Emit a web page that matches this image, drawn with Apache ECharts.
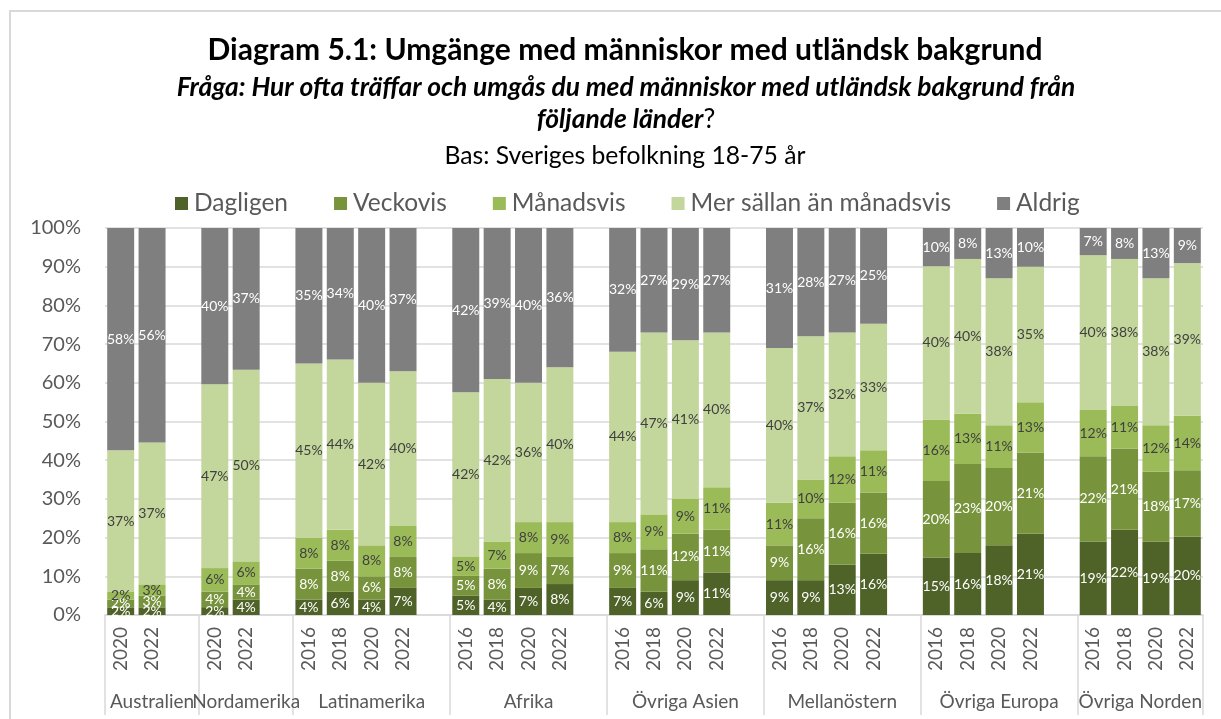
<!DOCTYPE html>
<html>
<head>
<meta charset="utf-8">
<script src="https://cdn.jsdelivr.net/npm/echarts@6/dist/echarts.min.js"></script>
<style>
html, body { margin:0; padding:0; background:#fff; width:1221px; height:719px; overflow:hidden; }
#frame { position:absolute; left:9px; top:10px; width:1300px; height:800px; border:2px solid #D9D9D9; box-sizing:border-box; }
#chart { position:absolute; left:0; top:0; width:1221px; height:719px; }
</style>
</head>
<body>
<div id="frame"></div>
<div id="chart"></div>
<script>
// ---- data ----
const groupNames = ['Australien','Nordamerika','Latinamerika','Afrika','Övriga Asien','Mellanöstern','Övriga Europa','Övriga Norden'];
const groupYears = [
  ['2020','2022'],
  ['2020','2022'],
  ['2016','2018','2020','2022'],
  ['2016','2018','2020','2022'],
  ['2016','2018','2020','2022'],
  ['2016','2018','2020','2022'],
  ['2016','2018','2020','2022'],
  ['2016','2018','2020','2022']
];
const seriesNames = ['Dagligen','Veckovis','Månadsvis','Mer sällan än månadsvis','Aldrig'];
const dagligen  = [2,2,  2,4,  4,6,4,7,   5,4,7,8,   7,6,9,11,   9,9,13,16,   15,16,18,21, 19,22,19,20];
const veckovis  = [2,3,  4,4,  8,8,6,8,   5,8,9,7,   9,11,12,11, 9,16,16,16,  20,23,20,21, 22,21,18,17];
const manadsvis = [2,3,  6,6,  8,8,8,8,   5,7,8,9,   8,9,9,11,   11,10,12,11, 16,13,11,13, 12,11,12,14];
const merSallan = [37,37, 47,50, 45,44,42,40, 42,42,36,40, 44,47,41,40, 40,37,32,33, 40,40,38,35, 40,38,38,39];
const aldrig    = [58,56, 40,37, 35,34,40,37, 42,39,40,36, 32,27,29,27, 31,28,27,25, 10,8,13,10, 7,8,13,9];
const yTicks = [0,10,20,30,40,50,60,70,80,90,100];

// ---- build ----
const colors = ['#4F6228','#77933C','#9BBB59','#C3D69B','#7F7F7F'];
const labelColors = ['#FFFFFF','#FFFFFF','#404040','#404040','#FFFFFF'];
const raw = [dagligen, veckovis, manadsvis, merSallan, aldrig];

const categories = [];
const dataIdx = []; // index into raw arrays, or -1 for blank
let k = 0;
groupYears.forEach((yrs, gi) => {
  yrs.forEach(y => { categories.push(y); dataIdx.push(k++); });
  if (gi < groupYears.length - 1) { categories.push(''); dataIdx.push(-1); }
});
const nCat = categories.length;

// group boundaries and centers (in category units)
const bounds = [0];
groupYears.forEach((yrs, gi) => {
  const size = yrs.length + (gi < groupYears.length - 1 ? 1 : 0);
  bounds.push(bounds[bounds.length - 1] + size);
});
const centers = groupNames.map((_, i) => (bounds[i] + bounds[i + 1]) / 2);
const centersEven = centers.filter((_, i) => i % 2 === 0);
const centersOdd = centers.filter((_, i) => i % 2 === 1);
const groupLabel = v => {
  const i = centers.findIndex(c => Math.abs(c - v) < 1e-6);
  return i >= 0 ? groupNames[i] : '';
};

const series = raw.map((arr, si) => ({
  name: seriesNames[si],
  type: 'bar',
  stack: 'total',
  xAxisIndex: 0,
  barCategoryGap: '14%',
  itemStyle: { color: colors[si] },
  label: {
    show: true,
    position: 'inside',
    color: labelColors[si],
    fontFamily: 'Lato',
    fontSize: 14,
    formatter: p => (p.data && p.data.raw != null) ? p.data.raw + '%' : ''
  },
  data: dataIdx.map(ix => {
    if (ix < 0) return null;
    const sum = raw.reduce((s, a) => s + a[ix], 0);
    return { value: arr[ix] * 100 / sum, raw: arr[ix] };
  })
}));

const groupAxis = (vals, withTicks) => ({
  type: 'value',
  min: 0,
  max: nCat,
  position: 'bottom',
  axisLine: { show: false },
  splitLine: { show: false },
  axisTick: withTicks
    ? { show: true, length: 100, customValues: bounds, lineStyle: { color: '#D9D9D9', width: 1.5 } }
    : { show: false },
  axisLabel: {
    show: true,
    customValues: vals,
    showMinLabel: true,
    showMaxLabel: true,
    margin: 77,
    fontFamily: 'Lato', fontSize: 19, color: '#595959',
    formatter: groupLabel
  }
});

const chart = echarts.init(document.getElementById('chart'), null, { renderer: 'canvas' });
chart.setOption({
  animation: false,
  color: colors,
  title: [
    { text: 'Diagram 5.1: Umgänge med människor med utländsk bakgrund', left: 620, textAlign: 'center', top: 27,
      textStyle: { fontFamily: 'Lato', fontWeight: 'bold', fontSize: 30, color: '#000', lineHeight: 36 } },
    { text: 'Fråga: Hur ofta träffar och umgås du med människor med utländsk bakgrund från', left: 621, textAlign: 'center', top: 67,
      textStyle: { fontFamily: 'Lato', fontWeight: 'bold', fontStyle: 'italic', fontSize: 26.4, color: '#000', lineHeight: 30 } },
    { text: '{a|följande länder}{b|?}', left: 621, textAlign: 'center', top: 99,
      textStyle: { fontFamily: 'Lato', fontWeight: 'normal', fontSize: 26.4, color: '#000', lineHeight: 30,
        rich: { a: { fontFamily: 'Lato', fontWeight: 'bold', fontStyle: 'italic', fontSize: 26.4, color: '#000' },
                b: { fontFamily: 'Lato', fontWeight: 'normal', fontStyle: 'normal', fontSize: 26.4, color: '#000' } } } },
    { text: 'Bas: Sveriges befolkning 18-75 år', left: 620, textAlign: 'center', top: 137,
      textStyle: { fontFamily: 'Lato', fontWeight: 'normal', fontSize: 24.7, color: '#000', lineHeight: 28 } }
  ],
  legend: {
    top: 186,
    left: 170,
    icon: 'rect',
    itemWidth: 13,
    itemHeight: 13,
    itemGap: 46,
    textStyle: { fontFamily: 'Lato', fontSize: 24.5, color: '#595959', padding: [0, 0, 0, 1] },
    data: seriesNames
  },
  grid: { left: 105, right: 18, top: 228, bottom: 104 },
  xAxis: [
    {
      type: 'category',
      data: categories,
      axisLine: { show: true, lineStyle: { color: '#D9D9D9', width: 1.5 } },
      axisTick: { show: false },
      axisLabel: { interval: 0, rotate: 90, margin: 12, fontFamily: 'Lato', fontSize: 19, color: '#595959' },
      splitLine: { show: false }
    },
    groupAxis(centersEven, true),
    groupAxis(centersOdd, false)
  ],
  yAxis: {
    type: 'value',
    min: yTicks[0],
    max: yTicks[yTicks.length - 1],
    interval: yTicks[1] - yTicks[0],
    axisLine: { show: false },
    axisTick: { show: false },
    axisLabel: { formatter: '{value}%', margin: 24, fontFamily: 'Lato', fontSize: 20, color: '#595959' },
    splitLine: { lineStyle: { color: '#D9D9D9', width: 1.5 } }
  },
  series: series
});
</script>
</body>
</html>
